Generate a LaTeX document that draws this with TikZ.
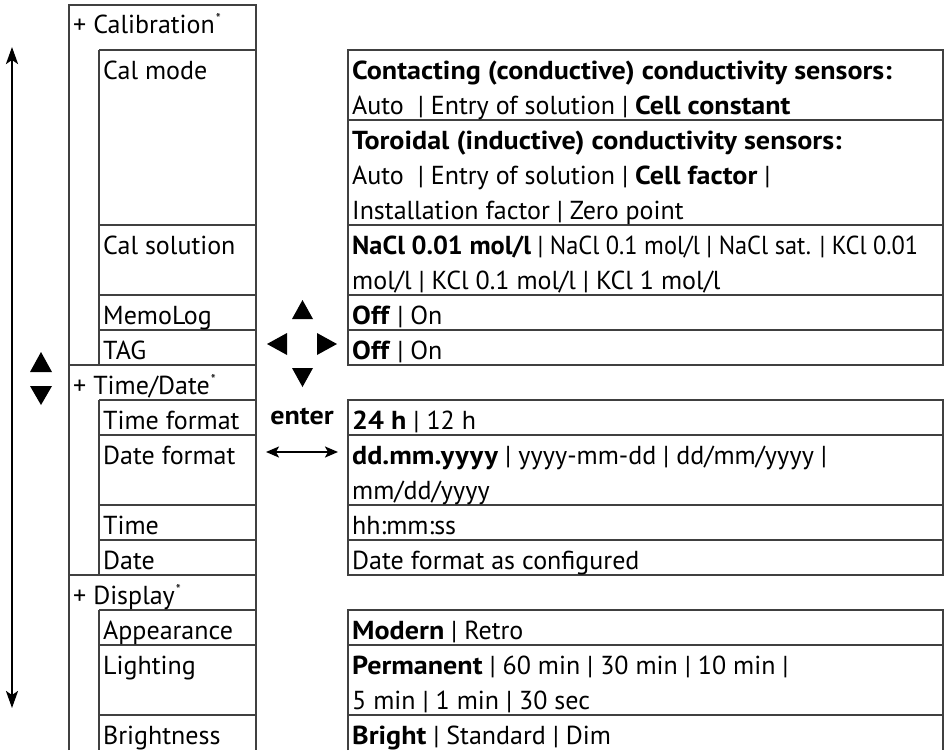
\documentclass[tikz,border=0pt]{standalone}
\usepackage{fontspec}
\usepackage{graphicx}
\setmainfont{PT Sans}[BoldFeatures={FakeStretch=1.08}]
\usetikzlibrary{arrows.meta}
\newcommand\fsz{\fontsize{26}{30}\selectfont}
\newcommand\myast{\hspace{1pt}\raisebox{9.5pt}{\fontsize{14}{14}\selectfont *}}
\tikzset{
  ln/.style={line width=1.3pt, draw=black!75},
  txt/.style={anchor=base west, inner sep=0pt, font=\fsz},
  tri/.style={fill=black},
  bigarrow/.style={line width=2.4pt, {Stealth[length=17pt,width=12pt,inset=4pt]}-{Stealth[length=17pt,width=12pt,inset=4pt]}},
  smallarrow/.style={line width=2pt, {Stealth[length=13pt,width=11pt,inset=3pt]}-{Stealth[length=13pt,width=11pt,inset=3pt]}},
}
\begin{document}
\begin{tikzpicture}[x=1pt,y=-1pt]
\useasboundingbox (0,0) rectangle (948,750);
% left outer column
\draw[ln] (69,750) -- (69,5) -- (256,5) -- (256,750);
\draw[ln] (69,365) -- (256,365);
\draw[ln] (69,575) -- (256,575);
\draw[ln] (99,50) -- (99,365);
\draw[ln] (99,400) -- (99,575);
\draw[ln] (99,610) -- (99,750);
\foreach \y in {50,225,295,330,400,435,505,540,610,645,715}
  \draw[ln] (99,\y) -- (256,\y);
% right boxes
\draw[ln] (348,50) rectangle (943,365);
\foreach \y in {120,225,295,330}
  \draw[ln] (348,\y) -- (943,\y);
\draw[ln] (348,400) rectangle (943,575);
\foreach \y in {435,505,540}
  \draw[ln] (348,\y) -- (943,\y);
\draw[ln] (348,750) -- (348,610) -- (943,610) -- (943,750);
\foreach \y in {645,715}
  \draw[ln] (348,\y) -- (943,\y);
% left texts
\node[txt] (lcal) at (73,33) {+ Calibration\myast};
\node[txt] (lcm) at (103,79) {Cal mode};
\node[txt] (lcs) at (103,254) {Cal solution};
\node[txt] (lml) at (103,324) {MemoLog};
\node[txt] (ltag) at (103,359) {TAG};
\node[txt] (ltd) at (73,394) {+ Time/Date\myast};
\node[txt] (ltf) at (103,429) {Time format};
\node[txt] (ldf) at (103,464) {Date format};
\node[txt] (ltime) at (103,534) {Time};
\node[txt] (ldate) at (103,569) {Date};
\node[txt] (ldisp) at (73,604) {+ Display\myast};
\node[txt] (lapp) at (103,639) {Appearance};
\node[txt] (llight) at (103,674) {Lighting};
\node[txt] (lbright) at (103,744) {Brightness};
% right texts
\node[txt] (r1) at (352,79) {\textbf{Contacting (conductive) conductivity sensors:}};
\node[txt] (r2) at (352,114) {Auto\ \ | Entry of solution | \textbf{Cell constant}};
\node[txt] (r3) at (352,149) {\textbf{Toroidal (inductive) conductivity sensors:}};
\node[txt] (r4) at (352,184) {Auto\ \ | Entry of solution | \textbf{Cell factor} |};
\node[txt] (r5) at (352,219) {Installation factor | Zero point};
\node[txt] (r6) at (352,254) {\resizebox{566pt}{\height}{\textbf{NaCl 0.01 mol/l} | NaCl 0.1 mol/l | NaCl sat. | KCl 0.01}};
\node[txt] (r7) at (352,289) {mol/l | KCl 0.1 mol/l | KCl 1 mol/l};
\node[txt] (r8) at (352,324) {\textbf{Off} | On};
\node[txt] (r9) at (352,359) {\textbf{Off} | On};
\node[txt] (r10) at (352,429) {\textbf{24 h} | 12 h};
\node[txt] (r11) at (352,464) {\textbf{dd.mm.yyyy} | yyyy-mm-dd | dd/mm/yyyy |};
\node[txt] (r12) at (352,499) {mm/dd/yyyy};
\node[txt] (r13) at (352,534) {hh:mm:ss};
\node[txt] (r14) at (352,569) {Date format as configured};
\node[txt] (r15) at (352,639) {\textbf{Modern} | Retro};
\node[txt] (r16) at (352,674) {\textbf{Permanent} | 60 min | 30 min | 10 min |};
\node[txt] (r17) at (352,709) {5 min | 1 min | 30 sec};
\node[txt] (r18) at (352,744) {\textbf{Bright} | Standard | Dim};
% enter label
\node[anchor=base, inner sep=0pt, font=\fsz\bfseries] (enter) at (302,424) {enter};
% arrows
\coordinate (lt) at (12,47);
\coordinate (lb) at (12,708);
\draw[bigarrow] (lt) -- (lb);
\coordinate (ea) at (266,452);
\coordinate (eb) at (338,452);
\draw[smallarrow] (ea) -- (eb);
% triangles left
\fill[tri] (30,372) -- (52,372) -- (41,352) -- cycle;
\fill[tri] (30,386) -- (52,386) -- (41,405) -- cycle;
% triangles middle
\fill[tri] (292,319) -- (313,319) -- (302.5,300) -- cycle;
\fill[tri] (292,368) -- (313,368) -- (302.5,387) -- cycle;
\fill[tri] (287,333) -- (287,355) -- (267,344) -- cycle;
\fill[tri] (317,333) -- (317,355) -- (337,344) -- cycle;
\end{tikzpicture}
\end{document}
